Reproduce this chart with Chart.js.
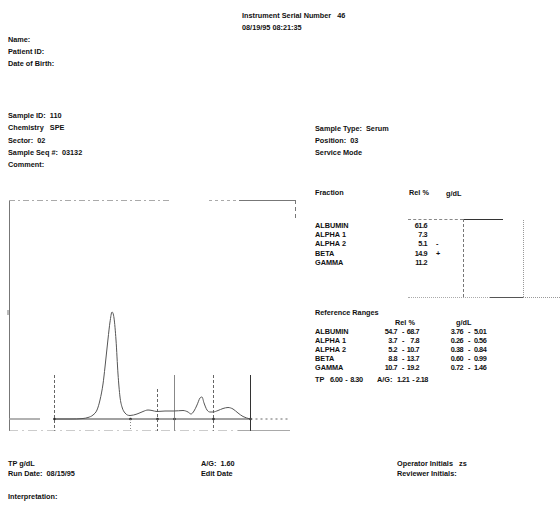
<!DOCTYPE html>
<html>
<head>
<meta charset="utf-8">
<script src="https://cdn.jsdelivr.net/npm/chart.js@4.4.1/dist/chart.umd.min.js"></script>
<style>
  html, body { margin: 0; padding: 0; background: #fff; }
  #page { position: relative; width: 560px; height: 506px; overflow: hidden;
          font-family: "Liberation Sans", Arial, sans-serif; font-weight: bold;
          font-size: 7.3px; color: #111; }
  .t { position: absolute; white-space: pre; line-height: 8px; }
  .ra { text-align: right; }
  .num { letter-spacing: -0.5px; }
  #chartBox { position: absolute; left: 0; top: 190px; width: 300px; height: 250px; }
  .ln { position: absolute; }
</style>
</head>
<body>
<div id="page">
  <div id="chartBox"><canvas id="scan" width="300" height="250"></canvas></div>
</div>
<script>
// ---- densitometer scan (position along the strip, density above baseline) ----
const scanPos = [46, 61, 74, 79, 84, 88, 91, 94, 96, 99, 101, 103, 105, 107, 109, 111, 113, 116,
                 121, 128, 134, 139, 143, 148, 156, 165, 174, 179, 182, 185, 188, 191, 193, 195,
                 198, 201, 204, 209, 214, 219, 224, 229, 234, 241];
const density = [0, 0, 0.5, 1.5, 4, 9, 19, 35, 52, 80, 97, 107, 101, 79, 45, 22, 12, 6,
                 3.5, 5, 7.5, 9, 8.5, 7.5, 8, 8, 8.5, 7, 5, 8, 14, 21, 22, 16,
                 9, 7, 7, 8.5, 10.5, 11.5, 10, 6, 2.5, 0];

// fraction boundary marks along the strip, and how far each mark rises above baseline
const fractionMarks = [45.5, 121.5, 148.5, 165.5, 204.5, 241.5];
const markHeights = [44, 0, 30, 44, 44, 44];
const markStyle = ['dash', 'dot', 'dash', 'grey', 'dash', 'dark'];

// ---- fraction results ----
const fractionNames = ['ALBUMIN', 'ALPHA 1', 'ALPHA 2', 'BETA', 'GAMMA'];
const relPercent = [61.6, 7.3, 5.1, 14.9, 11.2];
const relFlags = ['', '', '-', '+', ''];

// ---- reference ranges ----
const refRelLow = ['54.7', '3.7', '5.2', '8.8', '10.7'];
const refRelHigh = ['68.7', '7.8', '10.7', '13.7', '19.2'];
const refGdlLow = ['3.76', '0.26', '0.38', '0.60', '0.72'];
const refGdlHigh = ['5.01', '0.56', '0.84', '0.99', '1.46'];
const refTP = ['6.00', '8.30'];
const refAG = ['1.21', '2.18'];

const page = document.getElementById('page');

function text(str, x, cy, opts) {
  const d = document.createElement('div');
  d.className = 't';
  d.textContent = str;
  d.style.top = (cy - 4) + 'px';
  if (opts && opts.right) {
    d.style.right = (560 - x) + 'px';
    d.classList.add('ra');
  } else {
    d.style.left = x + 'px';
  }
  if (opts && opts.num) d.classList.add('num');
  page.appendChild(d);
  return d;
}
function line(x, y, w, h, color, style) {
  const d = document.createElement('div');
  d.className = 'ln';
  d.style.left = x + 'px';
  d.style.top = y + 'px';
  if (style) {
    if (w > h) { d.style.width = w + 'px'; d.style.borderTop = h + 'px ' + style + ' ' + color; }
    else { d.style.height = h + 'px'; d.style.borderLeft = w + 'px ' + style + ' ' + color; }
  } else {
    d.style.width = w + 'px'; d.style.height = h + 'px'; d.style.background = color;
  }
  page.appendChild(d);
}

// header block
text('Instrument Serial Number   46', 242, 16);
text('08/19/95 08:21:35', 242, 28);
text('Name:', 8, 40);
text('Patient ID:', 8, 52);
text('Date of Birth:', 8, 64);
text('Sample ID:  110', 8, 116);
text('Chemistry   SPE', 8, 128);
text('Sector:  02', 8, 141);
text('Sample Seq #:  03132', 8, 153);
text('Comment:', 8, 165);
text('Sample Type:  Serum', 315, 129);
text('Position:  03', 315, 141);
text('Service Mode', 315, 153);

// fraction table
text('Fraction', 315, 193);
text('Rel %', 409, 193);
text('g/dL', 446, 194);
const rowY = [226, 235, 244, 254, 263];
fractionNames.forEach((n, i) => {
  text(n, 315, rowY[i]);
  text(relPercent[i].toFixed(1), 427, rowY[i], { right: true, num: true });
  if (relFlags[i]) text(relFlags[i], 436, rowY[i]);
});
// table frame
line(408, 219, 55, 1, '#888', 'dashed');
line(463, 219, 40, 1, '#333');
line(463, 219, 1, 78, '#777', 'dashed');
line(523, 220, 1, 77, '#999', 'dotted');
line(408, 297, 82, 1, '#aaa', 'dotted');
line(490, 297, 33, 1, '#555');
line(523, 297, 37, 1, '#999', 'dotted');

// reference ranges
text('Reference Ranges', 315, 313);
text('Rel %', 395, 323);
text('g/dL', 456, 323);
const refY = [332, 341, 350, 359, 368];
fractionNames.forEach((n, i) => {
  text(n, 315, refY[i]);
  text(refRelLow[i], 397, refY[i], { right: true, num: true });
  text('-', 402, refY[i]);
  text(refRelHigh[i], 419, refY[i], { right: true, num: true });
  text(refGdlLow[i], 463, refY[i], { right: true, num: true });
  text('-', 468, refY[i]);
  text(refGdlHigh[i], 474, refY[i], { num: true });
});
text('TP', 315, 380);
text(refTP[0] + '  -  ' + refTP[1], 330, 380, { num: true });
text('A/G:', 377, 380);
text(refAG[0] + '  - ' + refAG[1], 397, 380, { num: true });

// footer
text('TP g/dL', 8, 464);
text('Run Date:  08/15/95', 8, 474);
text('A/G:  1.60', 201, 464);
text('Edit Date', 201, 474);
text('Operator Initials   zs', 397, 464);
text('Reviewer Initials:', 397, 474);
text('Interpretation:', 8, 497);

// ---- scan chart ----
const BOTTOM = -12;
const tracePoints = scanPos.map((x, i) => ({ x, y: density[i] }));

function markSegments(style) {
  const pts = [];
  fractionMarks.forEach((m, i) => {
    if (markStyle[i] !== style) return;
    pts.push({ x: m, y: markHeights[i] }, { x: m, y: BOTTOM }, { x: m, y: null });
  });
  return pts;
}

const framePlugin = {
  id: 'stripFrame',
  beforeDatasetsDraw(chart) {
    const { ctx, chartArea: a } = chart;
    ctx.save();
    ctx.lineWidth = 1;
    ctx.strokeStyle = '#777';
    // left edge
    ctx.beginPath(); ctx.moveTo(a.left + 0.5, a.top); ctx.lineTo(a.left + 0.5, a.bottom); ctx.stroke();
    // top edge, faded
    ctx.setLineDash([6, 3, 2, 3]);
    ctx.strokeStyle = '#aaa';
    ctx.beginPath(); ctx.moveTo(a.left, a.top + 0.5); ctx.lineTo(a.left + 160, a.top + 0.5); ctx.stroke();
    ctx.setLineDash([3, 3]);
    ctx.beginPath(); ctx.moveTo(a.left + 200, a.top + 0.5); ctx.lineTo(a.left + 230, a.top + 0.5); ctx.stroke();
    ctx.setLineDash([]);
    ctx.strokeStyle = '#777';
    ctx.beginPath(); ctx.moveTo(a.left + 230, a.top + 0.5); ctx.lineTo(a.right, a.top + 0.5); ctx.stroke();
    // right edge, partly visible
    ctx.setLineDash([4, 3]);
    ctx.beginPath(); ctx.moveTo(a.right - 0.5, a.top); ctx.lineTo(a.right - 0.5, a.top + 20); ctx.stroke();
    // small reference tick on the left edge
    ctx.setLineDash([]);
    ctx.beginPath(); ctx.moveTo(a.left - 1, a.top + 110); ctx.lineTo(a.left - 1, a.top + 115); ctx.stroke();
    ctx.restore();
  }
};

new Chart(document.getElementById('scan'), {
  type: 'line',
  data: {
    datasets: [
      { // scan trace
        data: tracePoints, borderColor: '#555', borderWidth: 1, pointRadius: 0,
        cubicInterpolationMode: 'monotone', fill: false
      },
      { // baseline before the scan
        data: [{ x: 0, y: 0 }, { x: 31, y: 0 }], borderColor: '#999', borderWidth: 1.5, pointRadius: 0
      },
      { // baseline under the scan
        data: [{ x: fractionMarks[0], y: 0 }, { x: fractionMarks[5], y: 0 }],
        borderColor: '#444', borderWidth: 1.2, pointRadius: 0
      },
      { // baseline after the scan
        data: [{ x: fractionMarks[5], y: 0 }, { x: 281, y: 0 }],
        borderColor: '#666', borderWidth: 1, borderDash: [2, 3], pointRadius: 0
      },
      { // strip bottom edge
        data: [{ x: 0, y: BOTTOM }, { x: 229, y: BOTTOM }],
        borderColor: '#999', borderWidth: 1, borderDash: [9, 4, 2, 4], pointRadius: 0
      },
      {
        data: [{ x: 229, y: BOTTOM }, { x: 281, y: BOTTOM }],
        borderColor: '#555', borderWidth: 1.2, pointRadius: 0
      },
      { // dashed fraction marks
        data: markSegments('dash'), borderColor: '#666', borderWidth: 1, borderDash: [3, 2],
        pointRadius: 0, spanGaps: false
      },
      { // dotted fraction marks
        data: markSegments('dot'), borderColor: '#888', borderWidth: 1, borderDash: [1, 2],
        pointRadius: 0, spanGaps: false
      },
      { // grey fraction marks
        data: markSegments('grey'), borderColor: '#888', borderWidth: 1,
        pointRadius: 0, spanGaps: false
      },
      { // dark fraction marks
        data: markSegments('dark'), borderColor: '#333', borderWidth: 1,
        pointRadius: 0, spanGaps: false
      },
      { // boundary points on the baseline
        data: fractionMarks.map(m => ({ x: m, y: 0 })), showLine: false,
        pointRadius: 1.3, pointBackgroundColor: '#222', pointBorderWidth: 0
      }
    ]
  },
  options: {
    responsive: false,
    animation: false,
    events: [],
    layout: { padding: { left: 9, top: 10, right: 4, bottom: 9 } },
    plugins: { legend: { display: false }, tooltip: { enabled: false } },
    scales: {
      x: { type: 'linear', min: 0, max: 287, display: false },
      y: { type: 'linear', min: -12, max: 219, display: false }
    }
  },
  plugins: [framePlugin]
});
</script>
</body>
</html>
